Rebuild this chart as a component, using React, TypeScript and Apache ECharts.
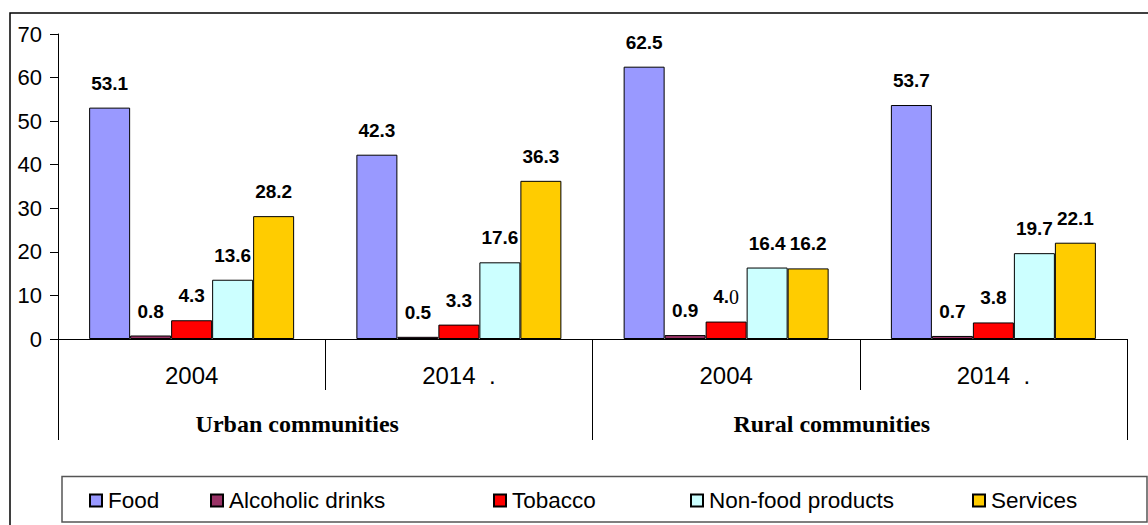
import React, { useEffect, useRef } from "react";
import * as echarts from "echarts";

// Share of consumer spending by category, urban vs rural communities
const yearLabels = ["2004", "2014  .", "2004", "2014  ."];
const groupLabels = ["Urban communities", "Rural communities"];
const seriesNames = ["Food", "Alcoholic drinks", "Tobacco", "Non-food products", "Services"];

const food = [53.1, 42.3, 62.5, 53.7];
const alcoholicDrinks = [0.8, 0.5, 0.9, 0.7];
const tobacco = [4.3, 3.3, 4.0, 3.8];
const nonFoodProducts = [13.6, 17.6, 16.4, 19.7];
const services = [28.2, 36.3, 16.2, 22.1];

const yTicks = { min: 0, max: 70, interval: 10 };

const seriesValues = [food, alcoholicDrinks, tobacco, nonFoodProducts, services];
const seriesColors = ["#9999FF", "#993366", "#FF0000", "#CCFFFF", "#FFCC00"];
const legendLefts = [89, 210, 493, 690, 972];

const SANS = "'Liberation Sans', Arial, sans-serif";
const SERIF = "'Liberation Serif', 'Times New Roman', serif";

export default function App() {
  const ref = useRef<HTMLDivElement>(null);

  useEffect(() => {
    if (!ref.current) return;
    const chart = echarts.init(ref.current, undefined, { renderer: "svg" });

    const series = seriesNames.map((name, si) => ({
      name,
      type: "bar",
      xAxisIndex: 0,
      yAxisIndex: 0,
      barWidth: 41,
      barGap: "0%",
      data: seriesValues[si],
      itemStyle: { color: seriesColors[si], borderColor: "#000", borderWidth: 1 },
      label: {
        show: true,
        position: "top",
        distance: 15,
        color: "#000",
        fontFamily: SANS,
        fontWeight: "bold",
        fontSize: 19,
        formatter: (p: any) => {
          const txt = Number(p.value).toFixed(1);
          // the rural 2004 tobacco label has its trailing digit set in a serif face
          if (si === 2 && p.dataIndex === 2) {
            const [whole, frac] = txt.split(".");
            return `{a|${whole}.}{b|${frac}}`;
          }
          return txt;
        },
        rich: {
          a: { fontFamily: SANS, fontWeight: "bold", fontSize: 19, color: "#000" },
          b: { fontFamily: SERIF, fontWeight: "normal", fontSize: 20, color: "#000" },
        },
      },
    }));

    const legends = seriesNames.map((name, i) => ({
      show: true,
      data: [name],
      left: legendLefts[i],
      top: 489,
      padding: 0,
      itemWidth: 12,
      itemHeight: 12,
      itemGap: 5,
      icon: "rect",
      selectedMode: false,
      textStyle: { fontFamily: SANS, fontSize: 22.5, color: "#000", padding: [0, 0, 0, 1] },
    }));

    chart.setOption({
      animation: false,
      backgroundColor: "#fff",
      grid: { left: 58, right: 21, top: 34, bottom: 186, containLabel: false },
      legend: legends,
      xAxis: [
        {
          type: "category",
          data: yearLabels,
          position: "bottom",
          boundaryGap: true,
          axisLine: { show: true, lineStyle: { color: "#000", width: 1 } },
          axisTick: { show: true, interval: 0, length: 51, alignWithLabel: false, lineStyle: { color: "#000" } },
          axisLabel: { interval: 0, margin: 24, fontFamily: SANS, fontSize: 24, color: "#000" },
          splitLine: { show: false },
        },
        {
          type: "category",
          data: groupLabels,
          position: "bottom",
          offset: 51,
          boundaryGap: true,
          axisLine: { show: false },
          axisTick: { show: true, interval: 0, length: 50, alignWithLabel: false, lineStyle: { color: "#000" } },
          axisLabel: {
            interval: 0,
            margin: 22,
            fontFamily: SERIF,
            fontWeight: "bold",
            fontSize: 24,
            color: "#000",
            padding: [0, 56, 0, 0],
          },
          splitLine: { show: false },
        },
      ],
      yAxis: {
        type: "value",
        min: yTicks.min,
        max: yTicks.max,
        interval: yTicks.interval,
        axisLine: { show: true, lineStyle: { color: "#000", width: 1 } },
        axisTick: { show: true, inside: false, length: 8, lineStyle: { color: "#000" } },
        axisLabel: { margin: 16, fontFamily: SANS, fontSize: 22, color: "#000" },
        splitLine: { show: false },
      },
      graphic: [
        {
          type: "rect",
          silent: true,
          z: -1,
          shape: { x: 10, y: 13, width: 1200, height: 600 },
          style: { fill: "none", stroke: "#000", lineWidth: 1.5 },
        },
        {
          type: "rect",
          silent: true,
          z: -1,
          shape: { x: 62, y: 476.5, width: 1085, height: 45.5 },
          style: { fill: "none", stroke: "#555", lineWidth: 1.5 },
        },
      ],
      series,
    });

    return () => chart.dispose();
  }, []);

  return (
    <div
      ref={ref}
      style={{ position: "absolute", left: 0, top: 0, width: 1148, height: 525, background: "#fff" }}
    />
  );
}
